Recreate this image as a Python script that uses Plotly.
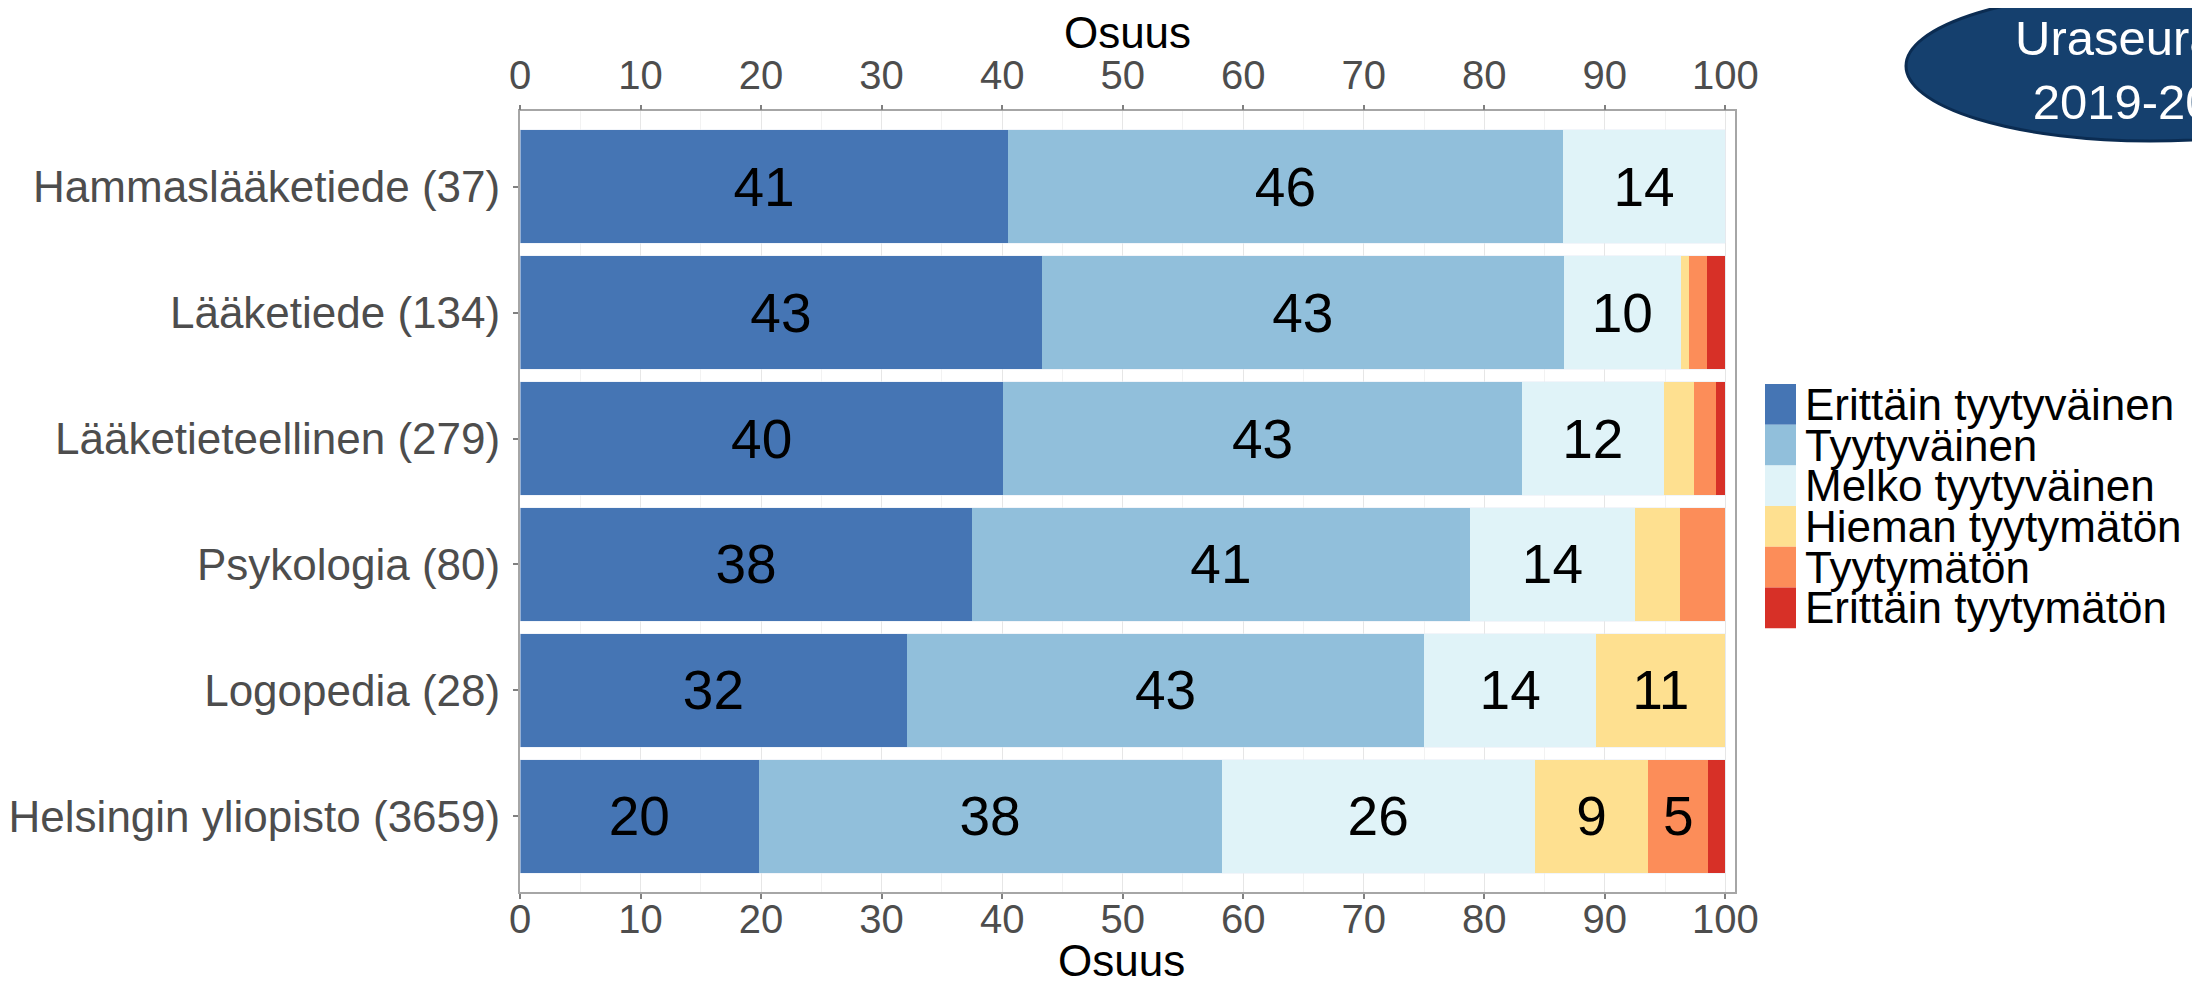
import plotly.graph_objects as go

# ---------------- data ----------------
categories = [
    "Hammaslääketiede (37)",
    "Lääketiede (134)",
    "Lääketieteellinen (279)",
    "Psykologia (80)",
    "Logopedia (28)",
    "Helsingin yliopisto (3659)",
]
series_names = [
    "Erittäin tyytyväinen",
    "Tyytyväinen",
    "Melko tyytyväinen",
    "Hieman tyytymätön",
    "Tyytymätön",
    "Erittäin tyytymätön",
]
erittain_tyytyvainen = [40.5, 43.3, 40.1, 37.5, 32.1, 19.8]
tyytyvainen = [46.0, 43.3, 43.0, 41.3, 42.9, 38.4]
melko_tyytyvainen = [13.5, 9.7, 11.8, 13.7, 14.3, 26.0]
hieman_tyytymaton = [0.0, 0.7, 2.5, 3.75, 10.7, 9.4]
tyytymaton = [0.0, 1.5, 1.8, 3.75, 0.0, 5.0]
erittain_tyytymaton = [0.0, 1.5, 0.8, 0.0, 0.0, 1.4]
series_values = [erittain_tyytyvainen, tyytyvainen, melko_tyytyvainen,
                 hieman_tyytymaton, tyytymaton, erittain_tyytymaton]
x_ticks = [0, 10, 20, 30, 40, 50, 60, 70, 80, 90, 100]
axis_title = "Osuus"
badge_text = "Uraseuranta<br>2019-2020"

# ---------------- style ----------------
colors = ["#4575B4", "#91BFDB", "#E0F3F8", "#FEE090", "#FC8D59", "#D73027"]
FONT = "Arial, Liberation Sans, sans-serif"
W, H = 2200, 981
PL, PR, PT, PB = 512, 1727, 103, 884  # plot area in pixels


def px_x(px):
    return (px - PL) / (PR - PL)


def px_y(py):
    return (PB - py) / (PB - PT)


def label(v):
    return str(int(v + 0.5)) if v >= 4.5 else ""


fig = go.Figure()
for name, vals, col in zip(series_names, series_values, colors):
    fig.add_trace(go.Bar(
        y=categories, x=vals, orientation="h", name=name,
        marker=dict(color=col, line=dict(width=0)),
        text=[label(v) for v in vals],
        textposition="inside", insidetextanchor="middle", textangle=0,
        textfont=dict(size=55, color="black", family=FONT),
        showlegend=False, hoverinfo="name+x",
    ))

# row totals drawn invisibly on the top axis so that it is rendered
row_totals = [sum(s[i] for s in series_values) for i in range(len(categories))]
fig.add_trace(go.Bar(
    y=categories, x=row_totals, orientation="h", xaxis="x2",
    marker=dict(color="rgba(0,0,0,0)"), showlegend=False, hoverinfo="skip",
))

axis_common = dict(
    range=[0, 100.8], tickmode="array", tickvals=x_ticks,
    ticks="outside", ticklen=5, tickcolor="#808080", tickwidth=1.5,
    tickfont=dict(size=40, color="#4D4D4D", family=FONT),
    zeroline=False, automargin=False,
)

fig.update_layout(
    width=W, height=H,
    margin=dict(l=PL, r=W - PR, t=PT, b=H - PB, pad=0),
    paper_bgcolor="white", plot_bgcolor="white",
    barmode="stack", bargap=0.1,
    font=dict(family=FONT),
    xaxis=dict(
        **axis_common,
        ticklabelstandoff=-14,
        showgrid=True, gridcolor="#E6E6E6", gridwidth=1,
        minor=dict(dtick=5, showgrid=True, gridcolor="#F2F2F2", gridwidth=1),
        showline=True, linecolor="#A6A6A6", linewidth=2, mirror=True,
    ),
    xaxis2=dict(
        **axis_common,
        overlaying="x", side="top", anchor="y", showgrid=False,
        showline=False,
        title=dict(text=axis_title, font=dict(size=44, color="black", family=FONT), standoff=0),
    ),
    yaxis=dict(
        categoryorder="array", categoryarray=categories,
        range=[5.6, -0.6], automargin=False,
        ticks="outside", ticklen=5, tickcolor="#808080", tickwidth=1.5,
        ticklabelstandoff=4,
        tickfont=dict(size=44, color="#4D4D4D", family=FONT),
        showgrid=False, zeroline=False,
        showline=True, linecolor="#A6A6A6", linewidth=2, mirror=True,
    ),
)

shapes = []
annotations = []

# bottom axis title
annotations.append(dict(
    xref="paper", yref="paper", x=px_x((PL + 1715) / 2), y=px_y(952),
    xanchor="center", yanchor="middle", showarrow=False,
    text=axis_title, font=dict(size=44, color="black", family=FONT),
))

# manual legend (blocks + labels)
row_h = 40.7
top = 376
for i, (name, col) in enumerate(zip(series_names, colors)):
    shapes.append(dict(
        type="rect", xref="paper", yref="paper",
        x0=px_x(1757), x1=px_x(1788),
        y0=px_y(top + row_h * (i + 1)), y1=px_y(top + row_h * i),
        fillcolor=col, line=dict(width=0), layer="above",
    ))
    annotations.append(dict(
        xref="paper", yref="paper", x=px_x(1795), y=px_y(top + row_h * (i + 0.5)),
        xanchor="left", yanchor="middle", showarrow=False,
        text=name, font=dict(size=44, color="black", family=FONT),
    ))

# badge in the top-right corner
shapes.append(dict(
    type="circle", xref="paper", yref="paper",
    x0=px_x(1898), x1=px_x(2386), y0=px_y(133), y1=px_y(-17),
    fillcolor="#15406E", line=dict(color="#0B2C52", width=3), layer="above",
))
annotations.append(dict(
    xref="paper", yref="paper", x=px_x(2142), y=px_y(62),
    xanchor="center", yanchor="middle", showarrow=False,
    text=badge_text, font=dict(size=49, color="white", family=FONT),
))

fig.update_layout(shapes=shapes, annotations=annotations)
fig.write_html("out.html")
